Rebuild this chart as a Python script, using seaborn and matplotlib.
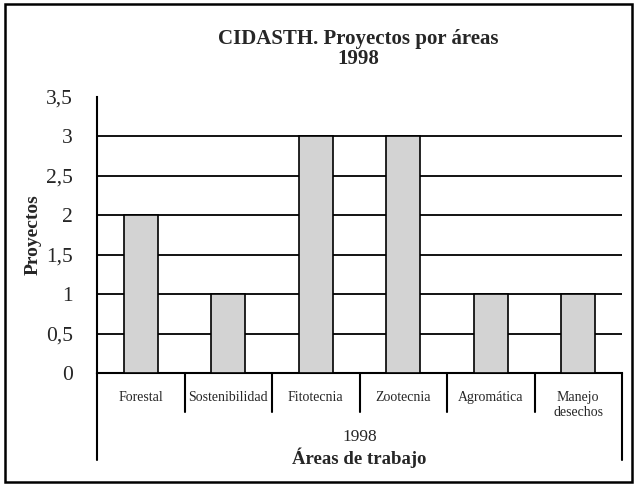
import matplotlib
matplotlib.use('Agg')
import matplotlib.pyplot as plt
import matplotlib.transforms as mtransforms
from matplotlib.patches import Rectangle
import seaborn as sns
import pandas as pd
import numpy as np

# Datos del gráfico
areas = ['Forestal', 'Sostenibilidad', 'Fitotecnia', 'Zootecnia', 'Agromática', 'Manejo\ndesechos']
proyectos = [2, 1, 3, 3, 1, 1]
y_ticks = [0, 0.5, 1, 1.5, 2, 2.5, 3, 3.5]
y_tick_labels = ['0', '0,5', '1', '1,5', '2', '2,5', '3', '3,5']
grupo = '1998'

sns.set_style('white')
plt.rcParams['font.family'] = ['Liberation Serif', 'DejaVu Serif']

df = pd.DataFrame({'area': areas, 'proyectos': proyectos})

fig = plt.figure(figsize=(6.37, 4.87), dpi=100)
ax = fig.add_axes([97 / 637, 1 - 373 / 487, 525 / 637, 276.5 / 487])

sns.barplot(data=df, x='area', y='proyectos', color='#d3d3d3', saturation=1,
            edgecolor='black', linewidth=1.2, width=0.39, ax=ax, zorder=3)

ax.set_xlim(-0.5, len(areas) - 0.5)
ax.set_ylim(0, 3.5)
ax.set_yticks(y_ticks)
ax.set_yticklabels(y_tick_labels, fontsize=15.5)
ax.tick_params(axis='y', direction='out', length=6.5, width=1.3, color='black', pad=11)
ax.set_xticks([])
ax.set_xlabel('')
ax.set_ylabel('Proyectos', fontsize=14, fontweight='bold', labelpad=3)

# líneas de la cuadrícula (sin la de 3,5)
ax.grid(axis='y', color='black', linewidth=1.3)
ax.set_axisbelow(True)
ax.yaxis.get_gridlines()[-1].set_visible(False)
ax.yaxis.get_major_ticks()[-1].tick1line.set_visible(False)

for s in ['top', 'right']:
    ax.spines[s].set_visible(False)
for s in ['left', 'bottom']:
    ax.spines[s].set_linewidth(1.5)
    ax.spines[s].set_color('black')

# separadores de categorías bajo el eje
trans = mtransforms.blended_transform_factory(ax.transData, ax.transAxes)
n = len(areas)
for i in range(n + 1):
    xb = i - 0.5
    bottom = -0.315 if i in (0, n) else -0.141
    ax.plot([xb, xb], [0, bottom], color='black', lw=1.5, transform=trans, clip_on=False)

for i, lab in enumerate(areas):
    ax.text(i, -0.066, lab, transform=trans, ha='center', va='top',
            fontsize=10, linespacing=1.2)

ax.text(0.5, -0.231, grupo, transform=ax.transAxes, ha='center', va='center', fontsize=12.5)
ax.text(0.5, -0.305, 'Áreas de trabajo', transform=ax.transAxes, ha='center', va='center',
        fontsize=13.5, fontweight='bold')

fig.text(358 / 637, 1 - 39 / 487, 'CIDASTH. Proyectos por áreas', ha='center', va='center',
         fontsize=15, fontweight='bold')
fig.text(358 / 637, 1 - 59 / 487, '1998', ha='center', va='center',
         fontsize=15, fontweight='bold')

# marco de la figura
fig.patches.append(Rectangle((5 / 637, 5 / 487), 627 / 637, 478 / 487, transform=fig.transFigure,
                             fill=False, edgecolor='black', linewidth=1.8))

fig.savefig('out.png', dpi=100)
